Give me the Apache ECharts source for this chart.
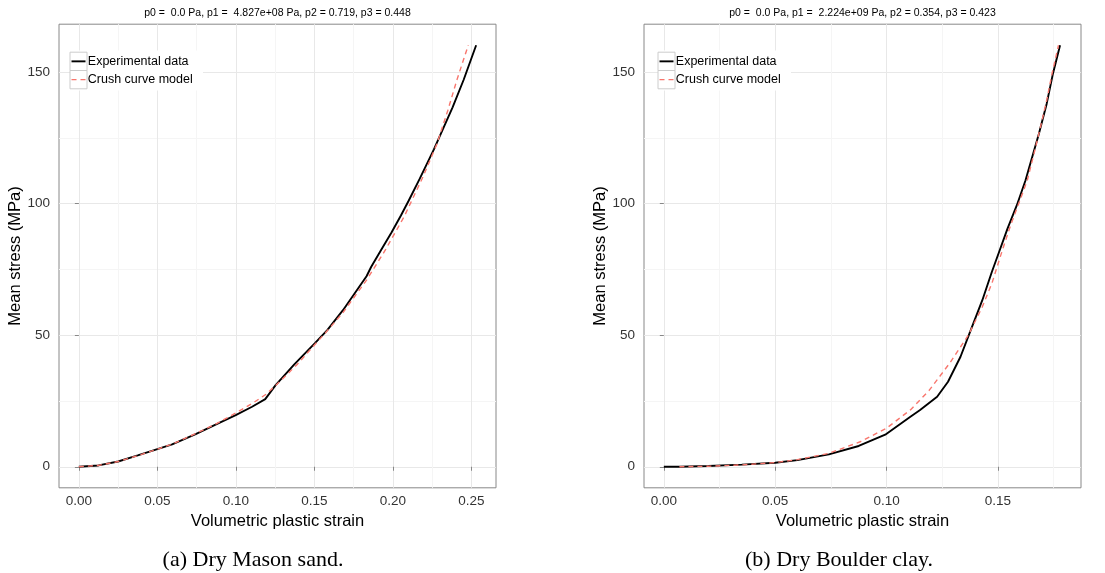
<!DOCTYPE html>
<html>
<head>
<meta charset="utf-8">
<script src="https://cdn.jsdelivr.net/npm/echarts@6/dist/echarts.min.js"></script>
<style>html,body{margin:0;padding:0;background:#fff}#chart{width:1105px;height:573px}</style>
</head>
<body>
<div id="chart"></div>
<script>
// ---------- data ----------
const sandTitle = 'p0 =  0.0 Pa, p1 =  4.827e+08 Pa, p2 = 0.719, p3 = 0.448';
const clayTitle = 'p0 =  0.0 Pa, p1 =  2.224e+09 Pa, p2 = 0.354, p3 = 0.423';
const sandCaption = '(a) Dry Mason sand.';
const clayCaption = '(b) Dry Boulder clay.';
const legendNames = ['Experimental data', 'Crush curve model'];
const xAxisTitle = 'Volumetric plastic strain';
const yAxisTitle = 'Mean stress (MPa)';

const sandStrainExp = [0.000, 0.0125, 0.025, 0.0375, 0.050, 0.0594, 0.0744, 0.0874, 0.0999, 0.1103, 0.1187, 0.1253, 0.1372, 0.1502, 0.1582, 0.1682, 0.1832, 0.1862, 0.1921, 0.1991, 0.2051, 0.2101, 0.2171, 0.2261, 0.2380, 0.2450, 0.2530];
const sandStressExp = [0, 0.5, 2.0, 4.3, 6.7, 8.5, 12.4, 16.1, 19.6, 22.8, 25.7, 31.0, 38.9, 46.9, 51.9, 59.5, 72.4, 76.0, 82.0, 89.0, 95.5, 101.2, 109.5, 120.6, 136.6, 147.0, 160.2];
const sandStrainModel = [0.000, 0.0125, 0.025, 0.0375, 0.050, 0.0594, 0.0744, 0.0874, 0.0999, 0.1113, 0.1193, 0.1273, 0.1392, 0.1502, 0.1572, 0.1682, 0.1832, 0.1951, 0.2071, 0.2191, 0.2281, 0.2350, 0.2410, 0.2480];
const sandStressModel = [0, 0.5, 2.0, 4.2, 6.7, 8.6, 12.6, 16.3, 20.4, 24.4, 27.6, 32.0, 39.0, 46.4, 51.0, 58.6, 70.9, 82.3, 95.0, 110.1, 122.8, 135.5, 147.5, 160.2];

const clayStrainExp = [0.000, 0.007, 0.020, 0.035, 0.050, 0.060, 0.0741, 0.0875, 0.0994, 0.1107, 0.1149, 0.1227, 0.1276, 0.1332, 0.1381, 0.1430, 0.1473, 0.1508, 0.1543, 0.1585, 0.1624, 0.1641, 0.1684, 0.1719, 0.1747, 0.1779];
const clayStressExp = [0, 0, 0.3, 0.8, 1.5, 2.5, 4.7, 7.9, 12.2, 19.0, 21.5, 26.6, 32.3, 41.8, 52.6, 63.3, 74.1, 82.3, 90.5, 99.4, 108.9, 113.9, 126.6, 138.0, 149.4, 160.2];
const clayStrainModel = [0.007, 0.020, 0.035, 0.050, 0.060, 0.0741, 0.0882, 0.0999, 0.1107, 0.1191, 0.1283, 0.1367, 0.1430, 0.1473, 0.1515, 0.1557, 0.1602, 0.1632, 0.1662, 0.1691, 0.1719, 0.1743, 0.1772];
const clayStressModel = [0, 0.2, 0.7, 1.6, 2.7, 5.1, 9.5, 14.6, 21.6, 29.0, 39.3, 50.0, 60.8, 69.7, 81.0, 91.8, 102.0, 108.9, 119.0, 129.1, 139.3, 149.4, 160.2];

const sandStrainTicks = [0, 0.05, 0.10, 0.15, 0.20, 0.25];
const sandStrainMinor = [0.025, 0.075, 0.125, 0.175, 0.225];
const clayStrainTicks = [0, 0.05, 0.10, 0.15];
const clayStrainMinor = [0.025, 0.075, 0.125, 0.175];
const stressTicks = [0, 50, 100, 150];
const stressMinor = [25, 75, 125];

// ---------- chart ----------
const FONT = '"Liberation Sans", Arial, Helvetica, sans-serif';
const SERIF = '"Liberation Serif", "Times New Roman", serif';
const pairs = (xs, ys) => xs.map((x, i) => [x, ys[i]]);

const sandRange = [-0.01265, 0.26565];
const clayRange = [-0.0089, 0.1873];
const stressRange = [-8.0, 168.2];

const GRID_TOP = 24.2, GRID_H = 463.6, GRID_W = 437;
const gridLeft = [59, 644];
const keyLeft = [70, 658];
const KEY_TOP = 52.2, KEY_H = 18.3, KEY_W = 17;

function majorX(gi, range, ticks) {
  return {
    type: 'value', gridIndex: gi, min: range[0], max: range[1], position: 'bottom',
    axisLine: { show: false },
    axisTick: { show: true, inside: false, length: 4, lineStyle: { color: '#888' }, customValues: ticks },
    axisLabel: { customValues: ticks, formatter: v => v.toFixed(2), margin: 6, fontSize: 13.5, color: '#333', fontFamily: FONT },
    splitLine: { show: true, lineStyle: { color: '#E8E8E8', width: 1 } },
    name: xAxisTitle, nameLocation: 'middle', nameGap: 18,
    nameTextStyle: { fontSize: 16.5, color: '#000', fontFamily: FONT }
  };
}
function minorX(gi, range, ticks) {
  return {
    type: 'value', gridIndex: gi, min: range[0], max: range[1], position: 'bottom',
    axisLine: { show: false },
    axisTick: { show: false, customValues: ticks },
    axisLabel: { show: false, customValues: ticks },
    splitLine: { show: true, lineStyle: { color: '#F5F5F5', width: 1 } }
  };
}
function majorY(gi) {
  return {
    type: 'value', gridIndex: gi, min: stressRange[0], max: stressRange[1], position: 'left',
    axisLine: { show: false },
    axisTick: { show: true, inside: false, length: 4, lineStyle: { color: '#888' }, customValues: stressTicks },
    axisLabel: { customValues: stressTicks, formatter: v => String(Math.round(v)), margin: 9, fontSize: 13.5, color: '#333', fontFamily: FONT },
    splitLine: { show: true, lineStyle: { color: '#E8E8E8', width: 1 } },
    name: yAxisTitle, nameLocation: 'middle', nameGap: 23,
    nameTextStyle: { fontSize: 16.5, color: '#000', fontFamily: FONT }
  };
}
function minorY(gi) {
  return {
    type: 'value', gridIndex: gi, min: stressRange[0], max: stressRange[1], position: 'left',
    axisLine: { show: false },
    axisTick: { show: false, customValues: stressMinor },
    axisLabel: { show: false, customValues: stressMinor },
    splitLine: { show: true, lineStyle: { color: '#F5F5F5', width: 1 } }
  };
}
const expStyle = { color: '#000', width: 1.9 };
const modelStyle = { color: '#F8766D', width: 1.4, dash: [5, 4] };
function expSeries(xi, yi, data) {
  return { type: 'line', name: legendNames[0], xAxisIndex: xi, yAxisIndex: yi, data: data,
    symbol: 'none', showSymbol: false, smooth: false, z: 3,
    lineStyle: { color: expStyle.color, width: expStyle.width }, itemStyle: { color: expStyle.color } };
}
function modelSeries(xi, yi, data) {
  return { type: 'line', name: legendNames[1], xAxisIndex: xi, yAxisIndex: yi, data: data,
    symbol: 'none', showSymbol: false, smooth: false, z: 4,
    lineStyle: { color: modelStyle.color, width: modelStyle.width, type: modelStyle.dash }, itemStyle: { color: modelStyle.color } };
}
// one legend component per entry: text only (invisible icon); the ggplot-style key is drawn below
function legendEntry(kl, i) {
  return { data: [{ name: legendNames[i], icon: 'rect' }], orient: 'vertical',
    left: kl + KEY_W + 0.8 - 5, top: KEY_TOP + i * KEY_H,
    padding: 0, itemWidth: 0, itemHeight: KEY_H, itemGap: 0, selectedMode: false, z: 6,
    itemStyle: { color: 'rgba(0,0,0,0)', borderWidth: 0, opacity: 0 },
    lineStyle: { opacity: 0, width: 0 },
    textStyle: { fontSize: 12.5, color: '#000', fontFamily: FONT } };
}
function legendKey(kl) {
  const els = [{ type: 'rect', z: 1, silent: true,
    shape: { x: kl, y: KEY_TOP - 1.7, width: 133, height: 2 * KEY_H + 3.4 },
    style: { fill: '#fff', stroke: null } }];
  [0, 1].forEach(i => {
    const cy = KEY_TOP + i * KEY_H + KEY_H / 2;
    els.push({ type: 'rect', z: 2, silent: true,
      shape: { x: kl, y: KEY_TOP + i * KEY_H, width: KEY_W, height: KEY_H },
      style: { fill: '#fff', stroke: '#CCCCCC', lineWidth: 1 } });
    const st = i === 0 ? expStyle : modelStyle;
    els.push({ type: 'line', z: 3, silent: true,
      shape: { x1: kl + 1.5, y1: cy, x2: kl + KEY_W - 1.5, y2: cy },
      style: { stroke: st.color, lineWidth: st.width, lineDash: st.dash || null } });
  });
  return els;
}
function label(x, y, text, font) {
  return { type: 'text', x: x, y: y, z: 10, silent: true,
    style: { text: text, font: font, fill: '#000', align: 'center', verticalAlign: 'middle' } };
}

const option = {
  animation: false,
  backgroundColor: '#fff',
  grid: gridLeft.map(l => ({ left: l, top: GRID_TOP, width: GRID_W, height: GRID_H, show: true,
    borderColor: '#888', borderWidth: 1, backgroundColor: 'transparent' })),
  xAxis: [majorX(0, sandRange, sandStrainTicks), minorX(0, sandRange, sandStrainMinor),
          majorX(1, clayRange, clayStrainTicks), minorX(1, clayRange, clayStrainMinor)],
  yAxis: [majorY(0), minorY(0), majorY(1), minorY(1)],
  legend: [legendEntry(keyLeft[0], 0), legendEntry(keyLeft[0], 1), legendEntry(keyLeft[1], 0), legendEntry(keyLeft[1], 1)],
  series: [
    expSeries(0, 0, pairs(sandStrainExp, sandStressExp)),
    modelSeries(0, 0, pairs(sandStrainModel, sandStressModel)),
    expSeries(2, 2, pairs(clayStrainExp, clayStressExp)),
    modelSeries(2, 2, pairs(clayStrainModel, clayStressModel))
  ],
  graphic: [
    label(gridLeft[0] + GRID_W / 2, 13.3, sandTitle, '10.5px ' + FONT),
    label(gridLeft[1] + GRID_W / 2, 13.3, clayTitle, '10.5px ' + FONT),
    label(253, 560, sandCaption, '22px ' + SERIF),
    label(839, 560, clayCaption, '22px ' + SERIF)
  ].concat(legendKey(keyLeft[0]), legendKey(keyLeft[1]))
};

const chart = echarts.init(document.getElementById('chart'), null, { renderer: 'canvas' });
chart.setOption(option);
</script>
</body>
</html>
